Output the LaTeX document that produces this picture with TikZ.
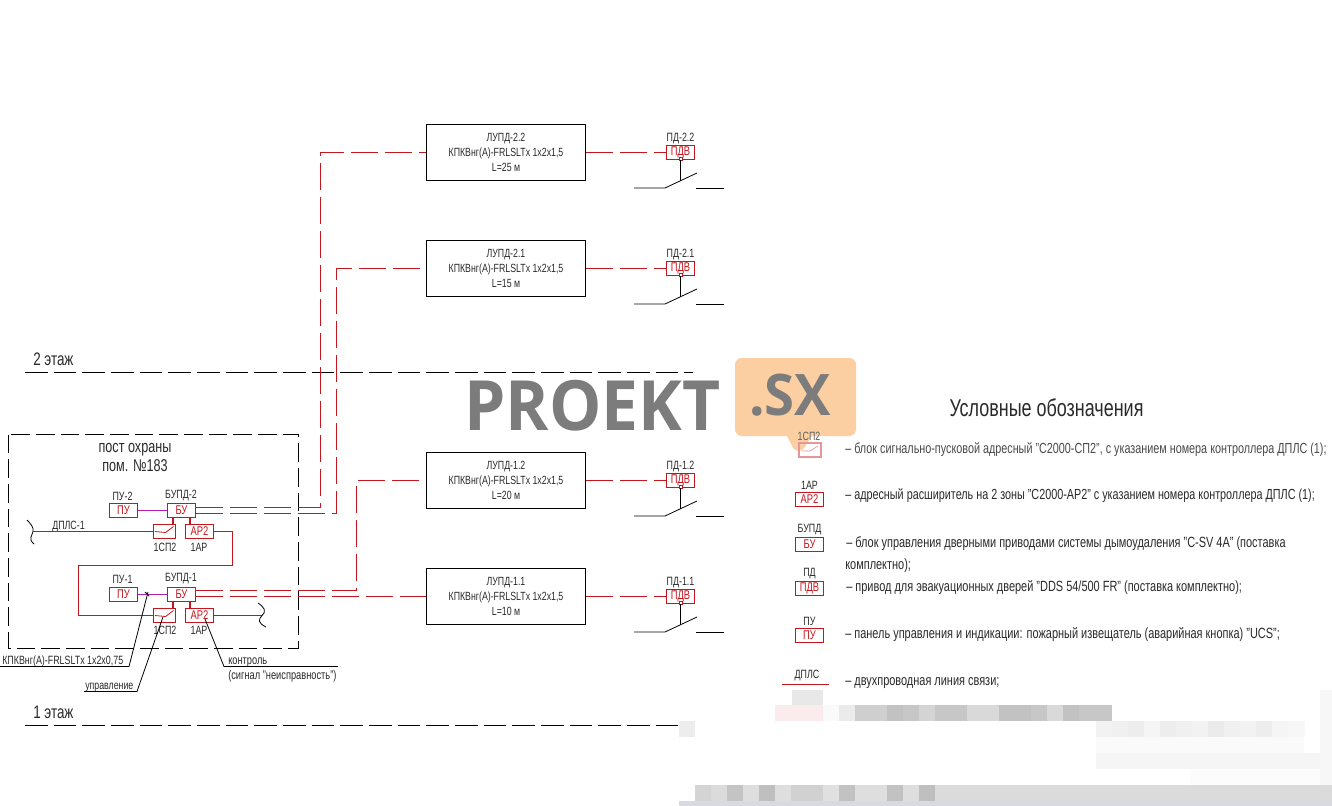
\documentclass[tikz,border=0pt]{standalone}
\usepackage{fontspec}
\usetikzlibrary{calc}
\setmainfont[FakeStretch=0.74]{Liberation Sans}
\newfontfamily\wmfont[FakeStretch=0.95]{Open Sans}
\definecolor{cred}{HTML}{C4161E}
\definecolor{cmag}{HTML}{B020B0}
\definecolor{ctxt}{HTML}{2A2A2A}
\definecolor{corg}{HTML}{FBCFA2}
\definecolor{cgry}{HTML}{7C7C7C}
\tikzset{
 txt/.style={inner sep=0pt,text=ctxt,font=\fontsize{9}{15}\selectfont,align=center},
 big/.style={txt,font=\fontsize{12.8}{14.5}\selectfont},
 flo/.style={txt,font=\fontsize{13.6}{14.5}\selectfont},
 note/.style={txt,anchor=base west,font=\fontsize{9.4}{10}\selectfont},
 leg/.style={inner sep=0pt,text=ctxt,anchor=west,font=\fontsize{11.1}{14}\selectfont},
 redbox/.style={draw=cred,line width=0.9pt,inner sep=0pt,text=cred,minimum width=21pt,minimum height=10.5pt,font=\fontsize{9.5}{9}\selectfont},
 swbox/.style={redbox,minimum width=16.5pt},
 lupd/.style={draw=black,line width=0.75pt,inner sep=0pt,minimum width=119.25pt,minimum height=42pt,text=ctxt,align=center,font=\fontsize{8.9}{11.3}\selectfont},
 redl/.style={draw=cred,line width=0.95pt},
 redd/.style={redl,dash pattern=on 20.5pt off 5pt},
 magl/.style={draw=cmag,line width=0.9pt},
 blk/.style={draw=black,line width=0.6pt},
 floorl/.style={draw=black,line width=0.6pt,dash pattern=on 17pt off 4.5pt},
 roomb/.style={draw=black,line width=0.6pt,dash pattern=on 14pt off 4.5pt},
 pale/.style={draw=cred!45,text=cred!45},
}
\begin{document}
\begin{tikzpicture}[x=0.75pt,y=-0.75pt]
\useasboundingbox (0,0) rectangle (1332,806);
\fill[white] (0,0) rectangle (1332,806);

% blurred strips
\foreach \x/\g in {775/3,791/6,807/8,823/2,839/8,855/19,871/19,887/24,903/22,919/17,935/22,951/22,967/15,983/15,999/24,1015/24,1031/22,1047/15,1063/24,1079/22,1095/22}
  \fill[black!\g] (\x,705) rectangle +(16.5,16);
\fill[cred!8] (775,705) rectangle (823,721);
\fill[black!9] (792,690) rectangle (823,705);
\fill[black!7] (679,721) rectangle (695,737);
\foreach \x/\g in {1096/5,1112/6,1128/7,1144/4,1160/7,1176/6,1192/5,1208/8,1224/6,1240/5,1256/7,1272/4,1288/3}
  \fill[black!\g] (\x,721) rectangle +(16.5,16);
\fill[black!2] (1096,737) rectangle (1304,753);
\fill[black!4] (1096,753) rectangle (1332,769);
\fill[black!1] (1190,769) rectangle (1332,785);
\foreach \x/\g in {695/17,711/14,727/23,743/13,759/25,775/13,791/18,807/18,823/12,839/24,855/13,871/13,887/24,903/13,919/25}
  \fill[black!\g] (\x,785) rectangle +(16.5,16);
\fill[black!14] (935,785) rectangle (1332,801);
\fill[blue!25!black!15] (679,801) rectangle (1332,806);
\fill[blue!3!black!3] (1320,690) rectangle (1332,785);

% watermark
\node[inner sep=0pt,anchor=base west,text=cgry,font=\wmfont\bfseries\fontsize{52}{52}\selectfont] (wmtext) at (464,430) {PROEKT};
\fill[corg,rounded corners=5pt] (735,358) -- (856,358) -- (856,436) -- (735,436) -- cycle;
\fill[corg,rounded corners=2pt] (786,434) -- (794,450) -- (802,451) -- (813,434) -- cycle;
\node[inner sep=0pt,anchor=base west,text=cgry,font=\wmfont\bfseries\fontsize{43}{43}\selectfont] (wmsx) at (749,415) {.SX};

% room border
\draw[roomb] (8.5,434.5) rectangle (298.5,648.5);
\node[big] (room) at (135,457.5) {пост охраны\\пом. №183};

% floors
\node[flo,anchor=base west] (fl2) at (33,365) {2 этаж};
\coordinate (fl2a) at (25,372.5);
\coordinate (fl2b) at (693,372.5);
\draw[floorl] (fl2a) -- (fl2b);
\node[flo,anchor=base west] (fl1) at (33,718) {1 этаж};
\coordinate (fl1a) at (25,725.5);
\coordinate (fl1b) at (680,725.5);
\draw[floorl] (fl1a) -- (fl1b);

% line boxes
\node[lupd] (l22) at (506,152.5) {ЛУПД-2.2\\КПКВнг(А)-FRLSLTх 1х2х1,5\\L=25 м};
\node[lupd] (l21) at (506,268.5) {ЛУПД-2.1\\КПКВнг(А)-FRLSLTх 1х2х1,5\\L=15 м};
\node[lupd] (l12) at (506,480.5) {ЛУПД-1.2\\КПКВнг(А)-FRLSLTх 1х2х1,5\\L=20 м};
\node[lupd] (l11) at (506,596.5) {ЛУПД-1.1\\КПКВнг(А)-FRLSLTх 1х2х1,5\\L=10 м};

% drives
\foreach \n/\y/\t in {22/152.5/ПД-2.2,21/268.5/ПД-2.1,12/480.5/ПД-1.2,11/596.5/ПД-1.1}{
  \node[redbox] (p\n) at (680.5,\y) {ПДВ};
  \node[txt] (pl\n) at (680.5,\y-13.5) {\t};
  \draw[redd] (l\n.east) -- (p\n.west);
  \fill[white,draw=cred,line width=0.5pt] ($(p\n.south)+(-1.5,-3)$) rectangle +(3,3);
  \coordinate (s\n) at (680.5,\y+28.5);
  \coordinate (k\n) at (665,\y+35.5);
  \coordinate (a\n) at (634,\y+35.5);
  \coordinate (e\n) at (697,\y+20.5);
  \coordinate (f\n) at (696,\y+35.5);
  \coordinate (g\n) at (724,\y+35.5);
  \draw[blk] (p\n.south) -- (s\n);
  \draw[blk] (a\n) -- (k\n) -- (e\n);
  \draw[blk] (f\n) -- (g\n);
}

% control room equipment
\node[redbox] (pu2) at (123.5,510.5) {ПУ};
\node[txt] (pu2l) at (122.5,496) {ПУ-2};
\node[redbox] (bu2) at (181.5,510.5) {БУ};
\node[txt] (bu2l) at (181,496) {БУПД-2};
\node[swbox] (sp2) at (164.5,531.5) {};
\node[txt] (sp2l) at (165,547.5) {1СП2};
\node[redbox] (ar2) at (199.5,531.5) {АР2};
\node[txt] (ar2l) at (199,547.5) {1АР};

\node[redbox] (pu1) at (123.5,594.5) {ПУ};
\node[txt] (pu1l) at (122.5,579) {ПУ-1};
\node[redbox] (bu1) at (181.5,594.5) {БУ};
\node[txt] (bu1l) at (181,579) {БУПД-1};
\node[swbox] (sp1) at (164.5,615.5) {};
\node[txt] (sp1l) at (165,630.5) {1СП2};
\node[redbox] (ar1) at (199.5,615.5) {АР2};
\node[txt] (ar1l) at (199,630.5) {1АР};

\foreach \b in {sp1,sp2}{
  \draw[cred,line width=0.6pt] ($(\b.west)+(2,0)$) -- ($(\b.center)+(1,1)$) -- ($(\b.center)+(9,-5)$);
}
\draw[magl] (pu2) -- (bu2);
\draw[magl] (pu1) -- (bu1);
\draw[redl] (bu2.south -| sp2.east) ++(-3,0) -- ++(0,7);
\draw[redl] (bu2.south -| ar2.west) ++(5,0) -- ++(0,7);
\draw[redl] (bu1.south -| sp1.east) ++(-3,0) -- ++(0,7);
\draw[redl] (bu1.south -| ar1.west) ++(5,0) -- ++(0,7);

% DPLS line
\coordinate (w1) at (33,531.5);
\node[txt,anchor=base west] (dpls) at (52,529) {ДПЛС-1};
\draw[blk] (27,520) .. controls (30,523) and (34,527) .. (w1) .. controls (32,536) and (28,539) .. (34,544);
\draw[redl] (w1) -- (sp2.west);
\coordinate (c1) at (232.5,565.5);
\coordinate (c2) at (78.5,615.5);
\draw[redl] (ar2.east) -| (c1) -| (c2) -- (sp1.west);
\coordinate (w2) at (262,615.5);
\draw[redl] (ar1.east) -- (w2);
\draw[blk] (258,603) .. controls (264,607) and (267,611) .. (w2) .. controls (258,620) and (258,623) .. (266,627);

% outgoing cables
\coordinate (o22) at ($(bu2.east)+(0,-3)$);
\coordinate (o21) at ($(bu2.east)+(0,3)$);
\coordinate (o12) at ($(bu1.east)+(0,-4)$);
\coordinate (o11) at ($(bu1.east)+(0,2)$);
\coordinate (t22) at (320.5,152.5);
\coordinate (t21) at (336.5,268.5);
\coordinate (t12) at (356.5,480.5);
\draw[redd] (o22) -| (t22) -- (l22.west);
\draw[redd] (o21) -| (t21) -- (l21.west);
\draw[redd] (o12) -| (t12) -- (l12.west);
\draw[redd] (o11) -- (l11.west);

% leaders
\node[note,font=\fontsize{9}{10}\selectfont] (kab) at (2,664) {КПКВнг(А)-FRLSLTх 1х2х0,75};
\coordinate (ka) at (0,666.5);
\coordinate (kb) at (129,666.5);
\coordinate (kc) at (148,592);
\draw[blk] (ka) -- (kb) -- (kc);
\draw[blk] (145,592) -- (149,596);
\node[note,font=\fontsize{8.9}{10}\selectfont] (upr) at (85,689) {управление};
\coordinate (ua) at (84,691.5);
\coordinate (ub) at (137,691.5);
\coordinate (uc) at (163,617);
\draw[blk] (ua) -- (ub) -- (uc);
\node[note] (kon) at (228,664) {контроль};
\node[note] (sig) at (228,679) {(сигнал "неисправность")};
\coordinate (ca) at (338,666.5);
\coordinate (cb) at (224,666.5);
\coordinate (cc) at (205,619);
\draw[blk] (ca) -- (cb) -- (cc);

% legend
\node[inner sep=0pt,text=ctxt,font=\fontsize{18.2}{20}\selectfont] (ltitle) at (1046.5,408) {Условные обозначения};
\node[swbox,pale] (lsp) at (810,450) {};
\draw[cred!45,line width=0.5pt] (802,451) -- (810,451) -- (818,446);
\node[txt,text=ctxt!75] (lspl) at (809,436) {1СП2};
\node[leg,text=ctxt!85,font=\fontsize{10.95}{14}\selectfont] (t1) at (845,450) {– блок сигнально-пусковой адресный "С2000-СП2", с указанием номера контроллера ДПЛС (1);};
\node[redbox] (lar) at (809.5,499.5) {АР2};
\node[txt] (larl) at (809.5,485) {1АР};
\node[leg,font=\fontsize{10.95}{14}\selectfont] (t2) at (845,495.5) {– адресный расширитель на 2 зоны "С2000-АР2" с указанием номера контроллера ДПЛС (1);};
\node[redbox] (lbu) at (809.5,544.5) {БУ};
\node[txt] (lbul) at (809.5,530) {БУПД};
\node[leg] (t3) at (846,544) {– блок управления дверными приводами системы дымоудаления "C-SV 4A" (поставка};
\node[leg] (t3b) at (845,566) {комплектно);};
\node[redbox] (lpd) at (809.5,588.5) {ПДВ};
\node[txt] (lpdl) at (809.5,574) {ПД};
\node[leg] (t4) at (846,588) {– привод для эвакуационных дверей "DDS 54/500 FR" (поставка комплектно);};
\node[redbox] (lpu) at (809.5,635.5) {ПУ};
\node[txt] (lpul) at (809.5,621) {ПУ};
\node[leg] (t5) at (845,635) {– панель управления и индикации: пожарный извещатель (аварийная кнопка) "UCS";};
\node[txt] (ldp) at (807,676) {ДПЛС};
\coordinate (lda) at (782,684.5);
\coordinate (ldb) at (829,684.5);
\draw[redl] (lda) -- (ldb);
\node[leg] (t6) at (845,683) {– двухпроводная линия связи;};
\end{tikzpicture}
\end{document}
